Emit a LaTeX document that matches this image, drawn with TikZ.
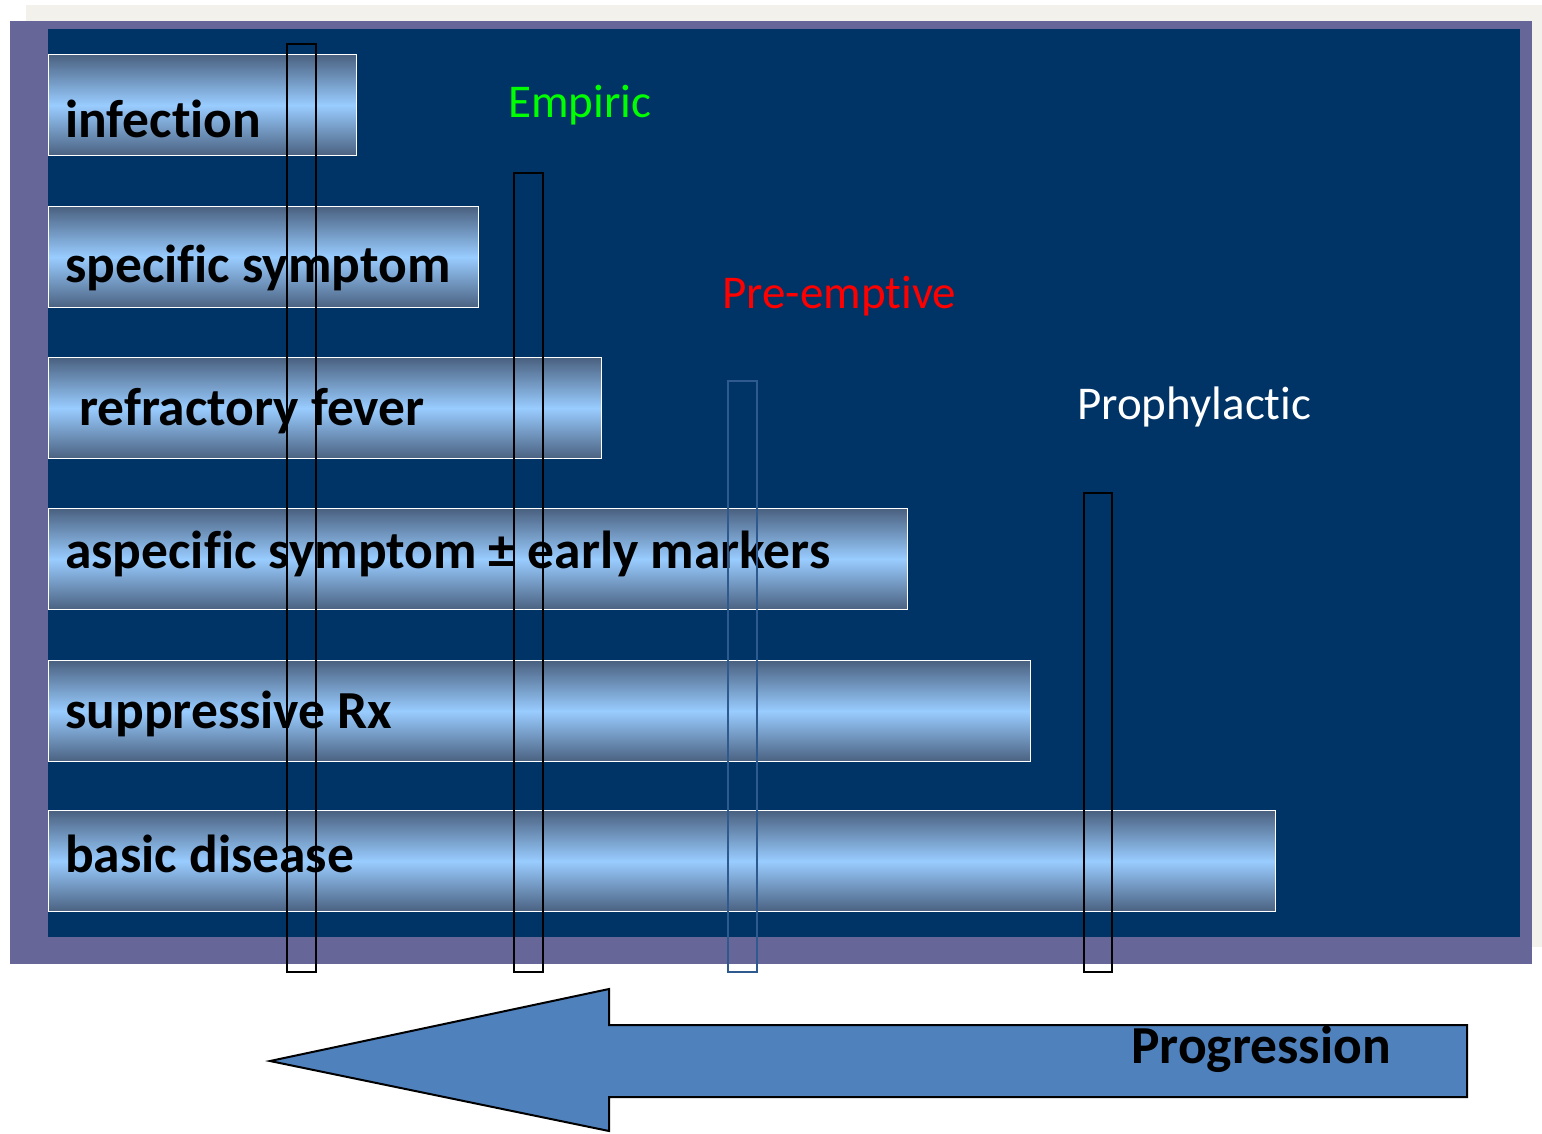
\documentclass[tikz,border=0pt]{standalone}
\usepackage{fontspec}
\setmainfont{Carlito}[Ligatures=NoCommon, RawFeature={-liga;-clig;-dlig;-calt;-hlig}]
\definecolor{paper}{HTML}{F2F1EC}
\definecolor{frame}{HTML}{666699}
\definecolor{navy}{HTML}{003366}
\definecolor{bardark}{HTML}{4A6180}
\definecolor{barlight}{HTML}{99CCFF}
\definecolor{arrowblue}{HTML}{4F81BD}
\definecolor{empgreen}{HTML}{00FF00}
\definecolor{prered}{HTML}{FF0000}
\definecolor{stickblue}{HTML}{2F5A90}
\begin{document}
\begin{tikzpicture}[x=1pt, y=-1pt,
  bar/.style={draw=white, line width=1.2pt, top color=bardark, bottom color=bardark, middle color=barlight, anchor=north west, minimum height=101pt, inner sep=0pt},
  bartext/.style={anchor=base west, inner sep=0pt, font=\fontsize{53.5}{60}\selectfont\bfseries},
  phase/.style={anchor=base west, inner sep=0pt, font=\fontsize{47}{56}\selectfont},
  stick/.style={draw=black, line width=2pt}]
\useasboundingbox (0,0) rectangle (1542,1133);
\fill[white] (0,0) rectangle (1542,1133);
% Cadre
\fill[paper] (26,5) rectangle (1542,947);
\fill[frame] (10,21) rectangle (1532,964);
\fill[navy] (48,29) rectangle (1520,937);
% Barres
\foreach \nm/\bx/\by/\base/\lx/\txt in {inf/356/54/137/65/infection, spec/478/206/282/65/specific symptom, fev/601/357/425/79/refractory fever, asp/907/508/568/65/aspecific symptom ± early markers, supp/1030/660/728/65/suppressive Rx, bas/1275/810/872/65/basic disease}
{
  \node[bar, minimum width=\bx-48] (\nm) at (48,\by) {};
  \node[bartext] (\nm-t) at (\lx,\base) {\txt};
}
% Phases
\node[phase, text=empgreen] (emp) at (508,117) {Empiric};
\node[phase, text=prered] (pre) at (722,308) {Pre-empt\kern0pt ive};
\node[phase, text=white] (pro) at (1077,419) {Prophylact\kern0pt ic};
% Colonnes
\draw[stick] (287,44) rectangle (316,972);
\draw[stick] (514,173) rectangle (543,972);
\draw[stick, draw=stickblue, line width=1.6pt] (728,381) rectangle (757,972);
\draw[stick] (1084,493) rectangle (1112,972);
% Fleche
\draw[fill=arrowblue, line width=2pt] (270,1061) -- (609,989) -- (609,1025) -- (1467,1025) -- (1467,1097) -- (609,1097) -- (609,1131) -- cycle;
\node[bartext] (prog) at (1131,1063) {Progression};
\end{tikzpicture}
\end{document}
